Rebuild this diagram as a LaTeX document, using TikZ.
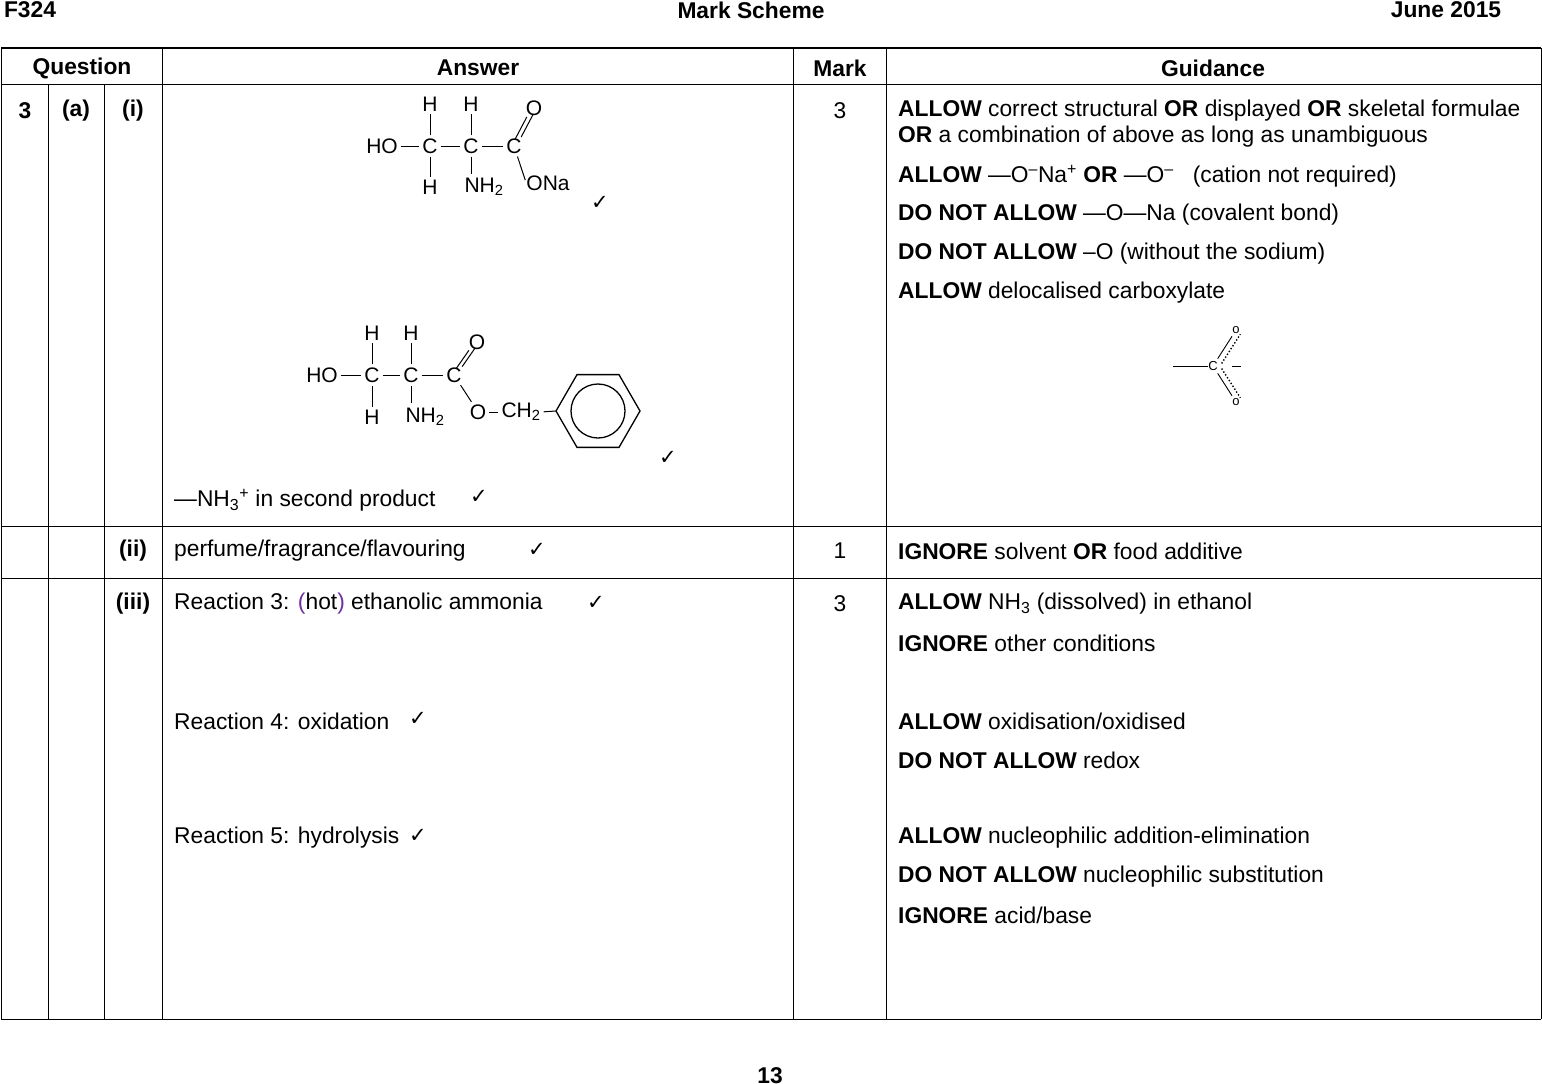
\documentclass[tikz,border=0pt]{standalone}
\usepackage{fontspec}
\setmainfont{Liberation Sans}
\newfontfamily\dejavu{DejaVu Sans}
\definecolor{purp}{RGB}{112,48,160}
\begin{document}
\begin{tikzpicture}[x=1pt,y=-1pt,
 txt/.style={anchor=west,inner sep=0pt,font=\fontsize{22.8}{26}\selectfont},
 hd/.style={inner sep=0pt,font=\fontsize{22.8}{26}\selectfont\bfseries},
 atm/.style={inner sep=0pt,font=\fontsize{21}{24}\selectfont},
 ck/.style={inner sep=0pt,font=\dejavu\fontsize{21}{24}\selectfont},
 rule/.style={line width=0.8pt},
 bond/.style={line width=1pt,shorten >=3pt,shorten <=3pt}]
\useasboundingbox (0,0) rectangle (1542,1084);
% page header
\node[hd] (h1) at (30,10) {F324};
\node[hd] (h2) at (751,10) {Mark Scheme};
\node[hd] (h3) at (1446,10) {June 2015};
\node[hd] (pg) at (770,1076) {13};
% table
\draw[line width=2pt] (1,48) -- (1541,48);
\draw[rule] (1,84) -- (1541,84);
\draw[rule] (1,526) -- (1541,526);
\draw[rule] (1,578) -- (1541,578);
\draw[rule] (1,1019) -- (1541,1019);
\draw[rule] (162,48) -- (162,1019);
\draw[rule] (793,48) -- (793,1019);
\draw[rule] (886,48) -- (886,1019);
\draw[rule] (1,48) -- (1,1019);
\draw[rule] (1541,48) -- (1541,1019);
\foreach \x in {48,104} \draw[rule] (\x,84) -- (\x,1019);
\node[hd] (q) at (82,68) {Question};
\node[hd] (a) at (478,68) {Answer};
\node[hd] (m) at (840,68) {Mark};
\node[hd] (g) at (1213,68) {Guidance};
\node[hd] (q3) at (25,111) {3};
\node[hd] (qa) at (76,111) {(a)};
\node[hd] (qi) at (133,111) {(i)};
\node[hd] (qii) at (133,551) {(ii)};
\node[hd] (qiii) at (133,604) {(iii)};
\node[txt,anchor=center] (m1) at (840,111) {3};
\node[txt,anchor=center] (m2) at (840,551) {1};
\node[txt,anchor=center] (m3) at (840,604) {3};
% guidance
\node[txt] (g1) at (898,111) {\textbf{ALLOW} correct structural \textbf{OR} displayed \textbf{OR} skeletal formulae};
\node[txt] (g2) at (898,137) {\textbf{OR} a combination of above as long as unambiguous};
\node[txt] (g3) at (898,176) {\textbf{ALLOW} —O\textsuperscript{–}Na\textsuperscript{+} \textbf{OR} —O\textsuperscript{–} \ \ (cation not required)};
\node[txt] (g4) at (898,215) {\textbf{DO NOT ALLOW} —O—Na (covalent bond)};
\node[txt] (g5) at (898,254) {\textbf{DO NOT ALLOW} –O (without the sodium)};
\node[txt] (g6) at (898,293) {\textbf{ALLOW} delocalised carboxylate};
\node[txt] (g7) at (898,551) {\textbf{IGNORE} solvent \textbf{OR} food additive};
\node[txt] (g8) at (898,604) {\textbf{ALLOW} NH\textsubscript{3} (dissolved) in ethanol};
\node[txt] (g9) at (898,643) {\textbf{IGNORE} other conditions};
\node[txt] (g10) at (898,721) {\textbf{ALLOW} oxidisation/oxidised};
\node[txt] (g11) at (898,760) {\textbf{DO NOT ALLOW} redox};
\node[txt] (g12) at (898,838) {\textbf{ALLOW} nucleophilic addition-elimination};
\node[txt] (g13) at (898,877) {\textbf{DO NOT ALLOW} nucleophilic substitution};
\node[txt] (g14) at (898,915) {\textbf{IGNORE} acid/base};
% carboxylate
\node[inner sep=0pt,font=\fontsize{13}{15}\selectfont] (cc) at (1213,366) {C};
\node[inner sep=0pt,font=\fontsize{13}{15}\selectfont] (co1) at (1236,330) {o};
\node[inner sep=0pt,font=\fontsize{13}{15}\selectfont] (co2) at (1236,402) {o};
\coordinate (cl) at (1173,366);
\coordinate (cr1) at (1232,366);
\coordinate (cr2) at (1241,366);
\draw[line width=0.9pt] (cl) -- (cc.west);
\draw[line width=0.9pt] (cr1) -- (cr2);
\draw[line width=0.9pt,shorten <=3pt,shorten >=3pt] (cc) -- (co1);
\draw[line width=0.9pt,shorten <=3pt,shorten >=3pt] (cc) -- (co2);
\draw[line width=1.4pt,dotted,shorten <=3pt,shorten >=5pt] ([xshift=7pt]cc.center) -- ([xshift=7pt]co1.center);
\draw[line width=1.4pt,dotted,shorten <=3pt,shorten >=5pt] ([xshift=7pt]cc.center) -- ([xshift=7pt]co2.center);
% answers
\node[txt] (t1) at (174,500) {—NH\textsubscript{3}\textsuperscript{+} in second product};
\node[txt] (t2) at (174,551) {perfume/fragrance/flavouring};
\node[txt] (t3) at (174,604) {Reaction 3: \textcolor{purp}{(}hot\textcolor{purp}{)} ethanolic ammonia};
\node[txt] (t4) at (174,721) {Reaction 4: oxidation};
\node[txt] (t5) at (174,838) {Reaction 5: hydrolysis};
\foreach \n/\x/\y in {k1/600/203,k2/668/458,k3/479/497,k4/537/550,k5/596/603,k6/418/719,k7/418/836}
  \node[ck] (\n) at (\x,\y) {✓};
% molecule 1
\node[atm] (aHO) at (382,146) {HO};
\node[atm] (aC1) at (430,146) {C};
\node[atm] (aC2) at (471,146) {C};
\node[atm] (aC3) at (514,146) {C};
\node[atm] (aH1) at (430,104) {H};
\node[atm] (aH2) at (430,187) {H};
\node[atm] (aH3) at (471,104) {H};
\node[atm] (aN) at (484,187) {NH\textsubscript{2}};
\node[atm] (aO1) at (534,108) {O};
\node[atm] (aO2) at (548,183) {ONa};
\coordinate (aNt) at (471,174);
\draw[bond] (aHO) -- (aC1); \draw[bond] (aC1) -- (aC2); \draw[bond] (aC2) -- (aC3);
\draw[bond] (aC1) -- (aH1); \draw[bond] (aC1) -- (aH2);
\draw[bond] (aC2) -- (aH3);
\draw[bond,shorten >=0pt] (aC2) -- (aNt);
\draw[bond,shorten >=9pt,shorten <=9pt] ([xshift=-3pt,yshift=-1pt]aC3.center) -- ([xshift=-3pt,yshift=-1pt]aO1.center);
\draw[bond,shorten >=9pt,shorten <=9pt] ([xshift=3pt,yshift=1pt]aC3.center) -- ([xshift=3pt,yshift=1pt]aO1.center);
\draw[bond] (aC3) -- (aO2.west);
% molecule 2
\node[atm] (bHO) at (322,375) {HO};
\node[atm] (bC1) at (372,375) {C};
\node[atm] (bC2) at (411,375) {C};
\node[atm] (bC3) at (454,375) {C};
\node[atm] (bH1) at (372,333) {H};
\node[atm] (bH2) at (372,417) {H};
\node[atm] (bH3) at (411,333) {H};
\node[atm] (bN) at (425,417) {NH\textsubscript{2}};
\node[atm] (bO1) at (477,342) {O};
\node[atm] (bO2) at (478,412) {O};
\node[atm] (bCH) at (521,412) {CH\textsubscript{2}};
\coordinate (bNt) at (411,403);
\draw[bond] (bHO) -- (bC1); \draw[bond] (bC1) -- (bC2); \draw[bond] (bC2) -- (bC3);
\draw[bond] (bC1) -- (bH1); \draw[bond] (bC1) -- (bH2);
\draw[bond] (bC2) -- (bH3); \draw[bond,shorten >=0pt] (bC2) -- (bNt);
\draw[bond,shorten >=9pt,shorten <=9pt] ([xshift=-3pt,yshift=-1pt]bC3.center) -- ([xshift=-3pt,yshift=-1pt]bO1.center);
\draw[bond,shorten >=9pt,shorten <=9pt] ([xshift=3pt,yshift=1pt]bC3.center) -- ([xshift=3pt,yshift=1pt]bO1.center);
\draw[bond] (bC3) -- (bO2);
\draw[bond] (bO2) -- (bCH);
\coordinate (bz) at (598,411);
\coordinate (bzl) at (556,411);
\draw[line width=1.3pt] (bz) ++(0:42) -- ++(120:42) -- ++(180:42) -- ++(240:42) -- ++(300:42) -- ++(0:42) -- cycle;
\draw[line width=1.3pt] (bz) circle (27);
\draw[bond,shorten >=0pt] (bCH.east) -- (bzl);
\end{tikzpicture}
\end{document}
